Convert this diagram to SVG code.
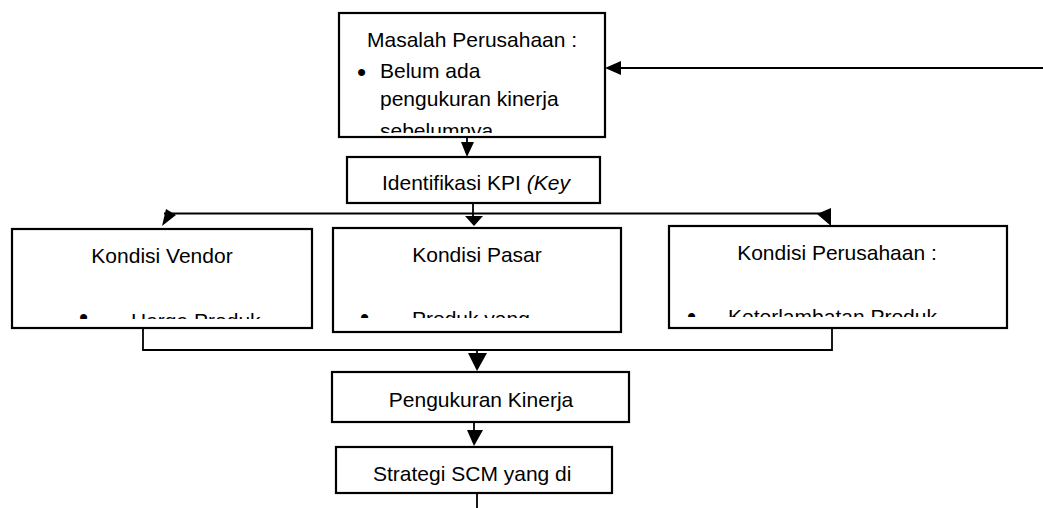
<svg xmlns="http://www.w3.org/2000/svg" width="1043" height="508" viewBox="0 0 1043 508">
<style>
.box{fill:#fff;stroke:#000;stroke-width:2.2}
.t{font-family:"Liberation Sans",Arial,sans-serif;font-size:21px;fill:#000}
.b{font-family:"Liberation Sans",Arial,sans-serif;font-size:26px;fill:#000}
.ln{fill:none;stroke:#000;stroke-width:1.8}
.ah{fill:#000;stroke:none}
</style>
<defs>
<clipPath id="c1"><rect x="341" y="15" width="262" height="118"/></clipPath>
<clipPath id="c3"><rect x="14" y="231" width="296" height="88"/></clipPath>
<clipPath id="c4"><rect x="335" y="230" width="284" height="88"/></clipPath>
<clipPath id="c5"><rect x="671" y="228" width="334" height="89"/></clipPath>
<clipPath id="c7"><rect x="338" y="449" width="272" height="36"/></clipPath>
</defs>
<g id="connectors">
<line class="ln" x1="1043" y1="68" x2="619" y2="68"/>
<polygon class="ah" points="605,68 621,61 621,75"/>
<line class="ln" x1="467" y1="137" x2="467" y2="143"/>
<polygon class="ah" points="461,142 474,142 467,157"/>
<line class="ln" x1="473" y1="203" x2="473" y2="216"/>
<line class="ln" x1="164" y1="213.5" x2="830" y2="213.5"/>
<polygon class="ah" points="166,209 176,215 162,226"/>
<polygon class="ah" points="465,216 483,216 474,226"/>
<polygon class="ah" points="831,208 831,226 817,214"/>
<polyline class="ln" points="143,328 143,350 832,350 832,328"/>
<line class="ln" x1="477" y1="350" x2="477" y2="354"/>
<polygon class="ah" points="468,353 487,353 477,371"/>
<line class="ln" x1="474" y1="422" x2="474" y2="431"/>
<polygon class="ah" points="467,430 483,430 474,446"/>
<line class="ln" x1="477" y1="493" x2="477" y2="508"/>
</g>
<g id="masalah">
<rect class="box" x="339" y="13" width="266" height="124"/>
<g clip-path="url(#c1)">
<text class="t" x="367" y="47">Masalah Perusahaan :</text>
<text class="b" x="357" y="81">•</text>
<text class="t" x="380" y="78">Belum ada</text>
<text class="t" x="380" y="106">pengukuran kinerja</text>
<text class="t" x="380" y="138">sebelumnya</text>
</g>
</g>
<g id="identifikasi">
<rect class="box" x="347" y="157" width="253" height="46"/>
<text class="t" x="382" y="190">Identifikasi KPI <tspan font-style="italic">(Key</tspan></text>
</g>
<g id="vendor">
<rect class="box" x="12" y="229" width="300" height="99"/>
<g clip-path="url(#c3)">
<text class="t" x="162" y="263" text-anchor="middle">Kondisi Vendor</text>
<text class="b" x="79" y="326">•</text>
<text class="t" x="131" y="328">Harga Produk</text>
</g>
</g>
<g id="pasar">
<rect class="box" x="333" y="228" width="288" height="104"/>
<g clip-path="url(#c4)">
<text class="t" x="477" y="262" text-anchor="middle">Kondisi Pasar</text>
<text class="b" x="360" y="326">•</text>
<text class="t" x="412" y="326">Produk yang</text>
</g>
</g>
<g id="perusahaan">
<rect class="box" x="669" y="226" width="338" height="102"/>
<g clip-path="url(#c5)">
<text class="t" x="837" y="260" text-anchor="middle">Kondisi Perusahaan :</text>
<text class="b" x="687" y="325">•</text>
<text class="t" x="728" y="324">Keterlambatan Produk</text>
</g>
</g>
<g id="pengukuran">
<rect class="box" x="332" y="372" width="297" height="50"/>
<text class="t" x="481" y="407" text-anchor="middle">Pengukuran Kinerja</text>
</g>
<g id="strategi">
<rect class="box" x="336" y="447" width="276" height="46"/>
<g clip-path="url(#c7)">
<text class="t" x="373" y="481">Strategi SCM yang di</text>
</g>
</g>
</svg>
